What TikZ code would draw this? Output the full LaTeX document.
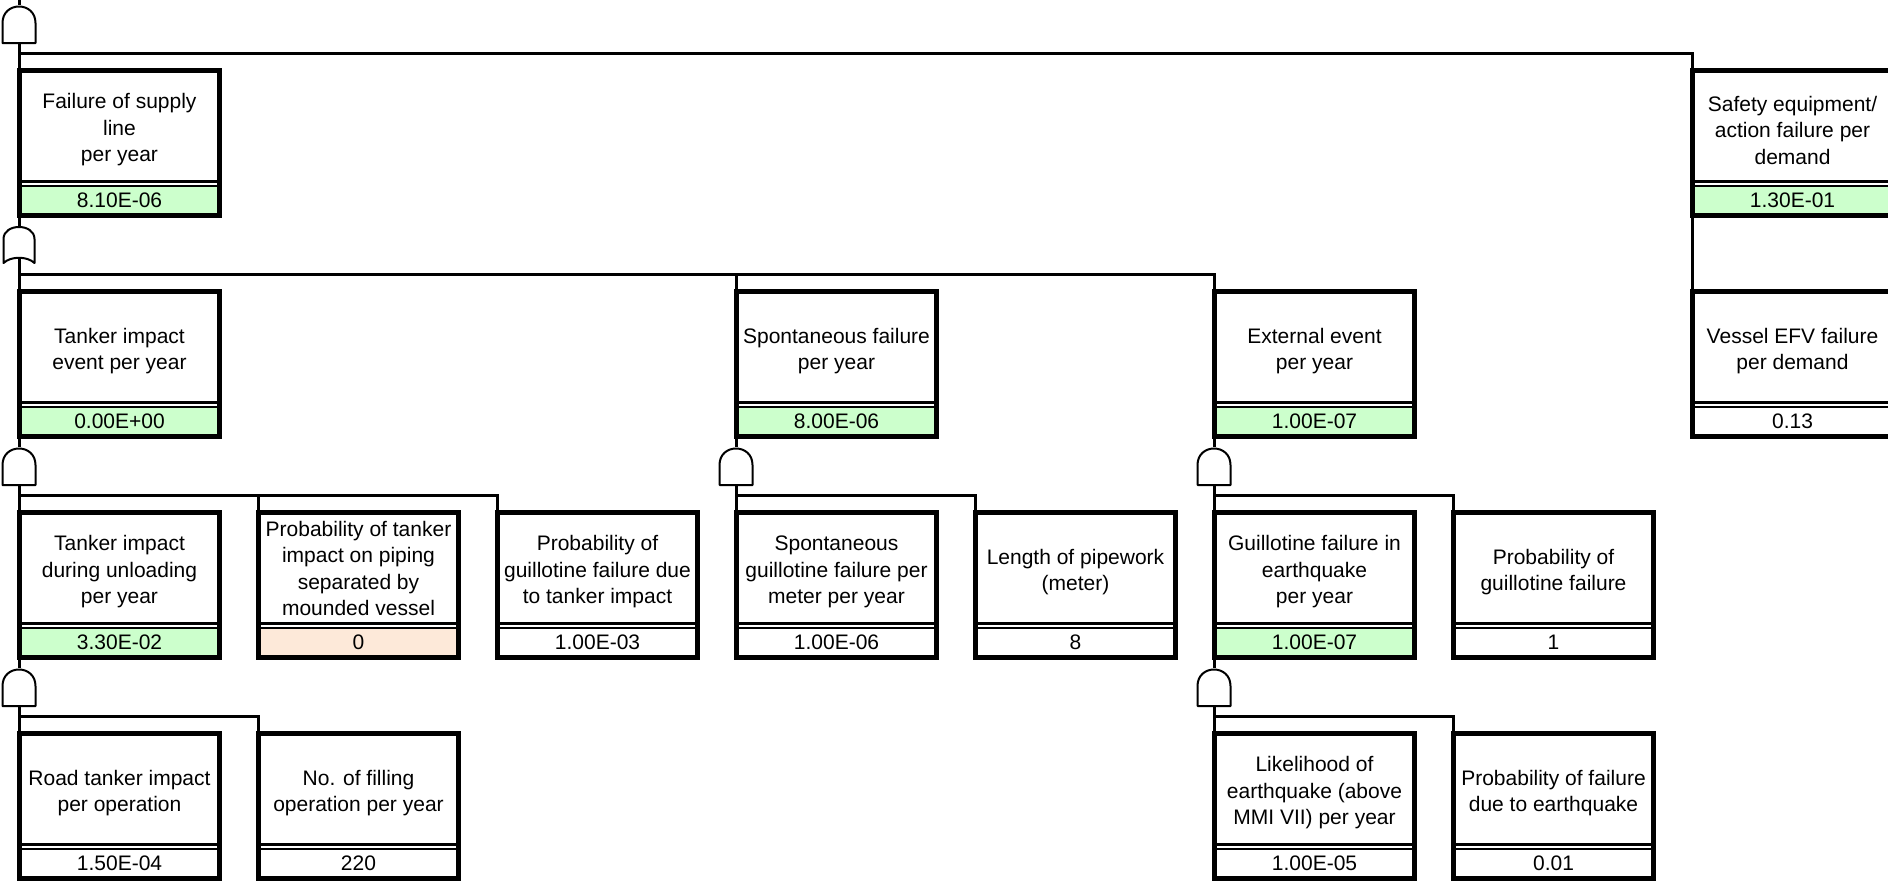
\documentclass[tikz,border=0pt]{standalone}
\usepackage{fontspec}
\setmainfont{Liberation Sans}
\definecolor{valgreen}{HTML}{CCFFCC}
\definecolor{valpeach}{HTML}{FDE9D9}
\tikzset{
  conn/.style={line width=3pt},
  gateline/.style={line width=2pt, fill=white, line join=round},
  boxframe/.style={draw, fill=white, line width=5pt, minimum width=200pt, minimum height=145pt, inner sep=0pt, outer sep=0pt, anchor=north west},
  boxtext/.style={align=center, inner sep=0pt, font=\fontsize{21}{26.5}\selectfont},
  valtext/.style={inner sep=0pt, font=\fontsize{21}{26}\selectfont},
}
\newcommand\ftbox[7][62]{%
  \node[boxframe] (#2) at (#3+2.5,#4+2.5) {};
  \fill[#7] (#3+5,#4+119) rectangle (#3+200,#4+145);
  \draw[line width=3pt] (#3+5,#4+113.5) -- (#3+200,#4+113.5);
  \draw[line width=1.5pt] (#3+5,#4+118) -- (#3+200,#4+118);
  \node[boxtext] (#2-t) at (#3+102.5,#4+#1) {#5};
  \node[valtext] (#2-v) at (#3+102.5,#4+132) {#6};
  \coordinate (#2-in) at (#3+2,#4);
  \coordinate (#2-out) at (#3+2,#4+150);
}
\newcommand\andgate[3]{%
  \draw[gateline] (#2-16.5,#3+38) -- (#2-16.5,#3+18) .. controls (#2-16.5,#3-4) and (#2+16.5,#3-4) .. (#2+16.5,#3+18) -- (#2+16.5,#3+38) -- cycle;
}
\newcommand\orgate[3]{%
  \draw[gateline] (#2-15.5,#3+37) -- (#2-15.5,#3+13) .. controls (#2-15.5,#3-3) and (#2+15.5,#3-3) .. (#2+15.5,#3+13) -- (#2+15.5,#3+37) .. controls (#2+8,#3+30) and (#2-8,#3+30) .. (#2-15.5,#3+37) -- cycle;
}
\begin{document}
\begin{tikzpicture}[x=1pt,y=-1pt]
\useasboundingbox (0,0) rectangle (1888,881);
\clip (0,0) rectangle (1888,881);
\fill[white] (0,0) rectangle (1888,881);

% boxes
\ftbox{b11}{17}{68}{Failure of supply\\line\\per year}{8.10E-06}{valgreen}
\ftbox{b81}{1690}{68}{Safety equipment/\\action failure per\\demand}{1.30E-01}{valgreen}
\ftbox{b12}{17}{289}{Tanker impact\\event per year}{0.00E+00}{valgreen}
\ftbox{b42}{734}{289}{Spontaneous failure\\per year}{8.00E-06}{valgreen}
\ftbox{b62}{1212}{289}{External event\\per year}{1.00E-07}{valgreen}
\ftbox{b82}{1690}{289}{Vessel EFV failure\\per demand}{0.13}{white}
\ftbox{b13}{17}{510}{Tanker impact\\during unloading\\per year}{3.30E-02}{valgreen}
\ftbox[58.5]{b23}{256}{510}{Probability of tanker\\impact on piping\\separated by\\mounded vessel}{0}{valpeach}
\ftbox{b33}{495}{510}{Probability of\\guillotine failure due\\to tanker impact}{1.00E-03}{white}
\ftbox{b43}{734}{510}{Spontaneous\\guillotine failure per\\meter per year}{1.00E-06}{white}
\ftbox{b53}{973}{510}{Length of pipework\\(meter)}{8}{white}
\ftbox{b63}{1212}{510}{Guillotine failure in\\earthquake\\per year}{1.00E-07}{valgreen}
\ftbox{b73}{1451}{510}{Probability of\\guillotine failure}{1}{white}
\ftbox{b14}{17}{731}{Road tanker impact\\per operation}{1.50E-04}{white}
\ftbox{b24}{256}{731}{No. of filling\\operation per year}{220}{white}
\ftbox{b64}{1212}{731}{Likelihood of\\earthquake (above\\MMI VII) per year}{1.00E-05}{white}
\ftbox{b74}{1451}{731}{Probability of failure\\due to earthquake}{0.01}{white}

% gate reference points
\coordinate (topend) at (19,0);
\coordinate (g1-t) at (19,5);   \coordinate (g1-b) at (19,43);
\coordinate (g2-t) at (19,226); \coordinate (g2-b) at (19,257);
\coordinate (g3-t) at (19,447); \coordinate (g3-b) at (19,485);
\coordinate (g4-t) at (736,447); \coordinate (g4-b) at (736,485);
\coordinate (g5-t) at (1214,447); \coordinate (g5-b) at (1214,485);
\coordinate (g6-t) at (19,668); \coordinate (g6-b) at (19,706);
\coordinate (g7-t) at (1214,668); \coordinate (g7-b) at (1214,706);

% stems
\draw[conn] (topend) -- (g1-t);
\draw[conn] (g1-b) -- (b11-in);
\draw[conn] (b11-out) -- (g2-t);
\draw[conn] (g2-b) -- (b12-in);
\draw[conn] (b12-out) -- (g3-t);
\draw[conn] (g3-b) -- (b13-in);
\draw[conn] (b42-out) -- (g4-t);
\draw[conn] (g4-b) -- (b43-in);
\draw[conn] (b62-out) -- (g5-t);
\draw[conn] (g5-b) -- (b63-in);
\draw[conn] (b13-out) -- (g6-t);
\draw[conn] (g6-b) -- (b14-in);
\draw[conn] (b63-out) -- (g7-t);
\draw[conn] (g7-b) -- (b64-in);
\draw[conn] (b81-out) -- (b82-in);

% branches
\draw[conn] (b11-in) ++(0,-15) -| (b81-in);
\draw[conn] (b12-in) ++(0,-15) -| (b62-in);
\draw[conn] (b42-in) -- ++(0,-15);
\draw[conn] (b13-in) ++(0,-15) -| (b33-in);
\draw[conn] (b23-in) -- ++(0,-15);
\draw[conn] (b43-in) ++(0,-15) -| (b53-in);
\draw[conn] (b63-in) ++(0,-15) -| (b73-in);
\draw[conn] (b14-in) ++(0,-15) -| (b24-in);
\draw[conn] (b64-in) ++(0,-15) -| (b74-in);

% gates
\andgate{g1}{19}{5}
\orgate{g2}{19}{226}
\andgate{g3}{19}{447}
\andgate{g4}{736}{447}
\andgate{g5}{1214}{447}
\andgate{g6}{19}{668}
\andgate{g7}{1214}{668}
\end{tikzpicture}
\end{document}
